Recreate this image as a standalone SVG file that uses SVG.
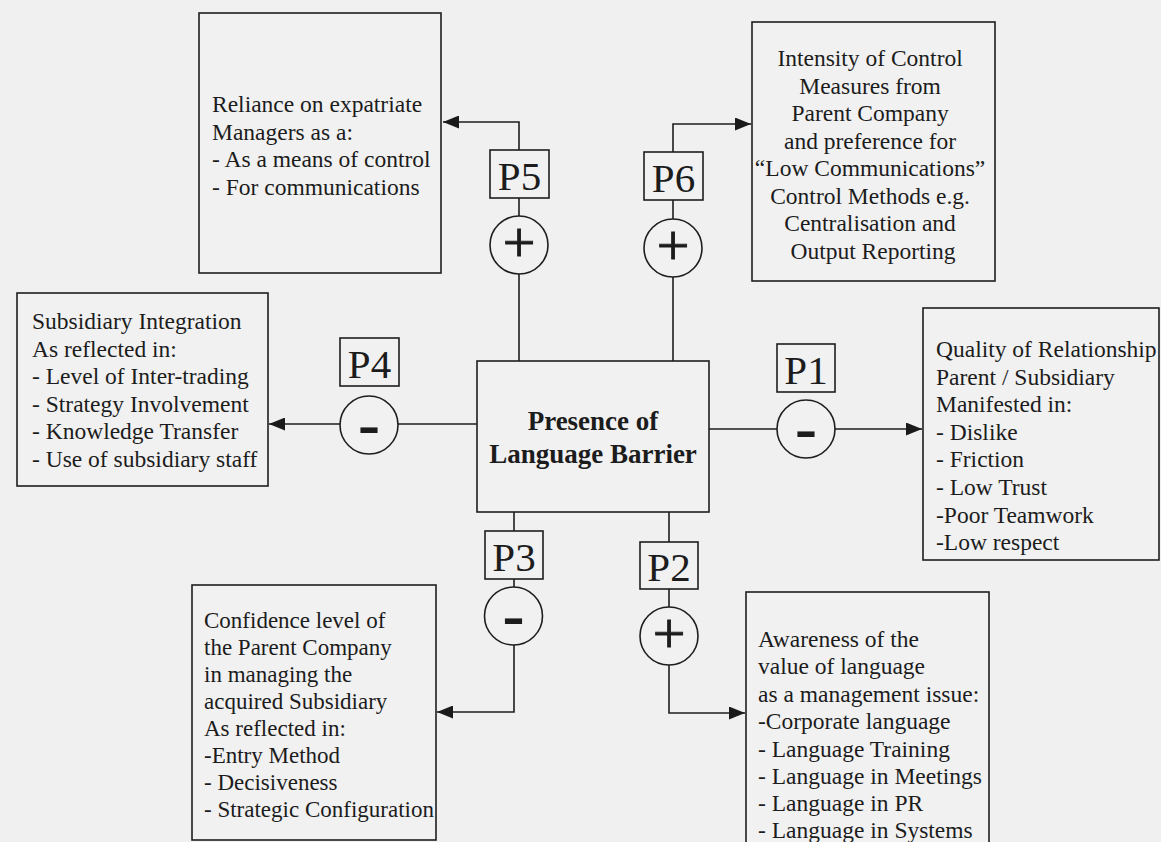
<svg xmlns="http://www.w3.org/2000/svg" width="1161" height="842" viewBox="0 0 1161 842">
  <defs>
    <marker id="arrow" markerUnits="userSpaceOnUse" markerWidth="17" markerHeight="13" refX="16" refY="6.5" orient="auto">
      <path d="M0,0 L16,6.5 L0,13 z" fill="#1a1a1a"/>
    </marker>
    <style>
      .bg { fill: #f0f0f0; }
      .box { fill: #f1f1f1; stroke: #1e1e1e; stroke-width: 1.6; }
      .wire { fill: none; stroke: #1e1e1e; stroke-width: 1.6; marker-end: url(#arrow); }
      .ring { fill: #f1f1f1; stroke: #1e1e1e; stroke-width: 1.6; }
      .body { font-family: "Liberation Serif", "Times New Roman", serif; font-size: 23.5px; fill: #1c1c1c; }
      .snug { font-size: 23px; }
      .mid { text-anchor: middle; }
      .title { font-family: "Liberation Serif", "Times New Roman", serif; font-size: 27px; font-weight: bold; fill: #1c1c1c; text-anchor: middle; }
      .tag { font-family: "Liberation Serif", "Times New Roman", serif; font-size: 41px; fill: #1c1c1c; text-anchor: middle; }
      .plus { font-family: "Liberation Serif", "Times New Roman", serif; font-size: 58px; fill: #1c1c1c; stroke: #1c1c1c; stroke-width: 0.9; text-anchor: middle; }
      .minus { font-family: "Liberation Serif", "Times New Roman", serif; font-size: 66px; font-weight: bold; fill: #1c1c1c; text-anchor: middle; }
    </style>
  </defs>

  <rect class="bg" x="0" y="0" width="1161" height="842"/>

  <!-- connectors: centre box out to each outcome box -->
  <g id="connectors">
    <path class="wire" d="M519,361 V122 H443"/>
    <path class="wire" d="M673,361 V124 H751"/>
    <path class="wire" d="M477,424 H269"/>
    <path class="wire" d="M709,429 H922"/>
    <path class="wire" d="M514,512 V712 H437"/>
    <path class="wire" d="M669,512 V713 H745"/>
  </g>

  <!-- central concept -->
  <g id="language-barrier">
    <rect class="box" x="477" y="361" width="232" height="151"/>
    <text class="title" x="593" y="430">Presence of</text>
    <text class="title" x="593" y="463">Language Barrier</text>
  </g>

  <!-- outcome boxes -->
  <g id="expatriate-managers">
    <rect class="box" x="199" y="13" width="242" height="260"/>
    <text class="body" x="212" y="112">
      <tspan x="212" y="112">Reliance on expatriate</tspan>
      <tspan x="212" y="140">Managers as a:</tspan>
      <tspan x="212" y="167">- As a means of control</tspan>
      <tspan x="212" y="195">- For communications</tspan>
    </text>
  </g>

  <g id="control-intensity">
    <rect class="box" x="752" y="22" width="243" height="259"/>
    <text class="body mid" x="873" y="66">
      <tspan x="873" y="66">Intensity of Control</tspan>
      <tspan x="873" y="94">Measures from</tspan>
      <tspan x="873" y="121">Parent  Company</tspan>
      <tspan x="873" y="149">and preference for</tspan>
      <tspan x="873" y="176">“Low Communications”</tspan>
      <tspan x="873" y="204">Control Methods e.g.</tspan>
      <tspan x="873" y="231">Centralisation and</tspan>
      <tspan x="873" y="259">Output Reporting</tspan>
    </text>
  </g>

  <g id="subsidiary-integration">
    <rect class="box" x="17" y="293" width="251" height="193"/>
    <text class="body" x="32" y="329">
      <tspan x="32" y="329">Subsidiary Integration</tspan>
      <tspan x="32" y="357">As reflected in:</tspan>
      <tspan x="32" y="384"> - Level of Inter-trading</tspan>
      <tspan x="32" y="412">-  Strategy Involvement</tspan>
      <tspan x="32" y="439">- Knowledge Transfer</tspan>
      <tspan x="32" y="467">- Use of subsidiary staff</tspan>
    </text>
  </g>

  <g id="relationship-quality">
    <rect class="box" x="923" y="308" width="236" height="252"/>
    <text class="body" x="936" y="357">
      <tspan x="936" y="357">Quality of Relationship</tspan>
      <tspan x="936" y="385">Parent / Subsidiary</tspan>
      <tspan x="936" y="412">Manifested in:</tspan>
      <tspan x="936" y="440">- Dislike</tspan>
      <tspan x="936" y="467">- Friction</tspan>
      <tspan x="936" y="495">- Low Trust</tspan>
      <tspan x="936" y="523">-Poor Teamwork</tspan>
      <tspan x="936" y="550">-Low respect</tspan>
    </text>
  </g>

  <g id="parent-confidence">
    <rect class="box" x="192" y="585" width="244" height="255"/>
    <text class="body snug" x="204" y="628">
      <tspan x="204" y="628">Confidence level of</tspan>
      <tspan x="204" y="655">the Parent Company</tspan>
      <tspan x="204" y="682">in managing the</tspan>
      <tspan x="204" y="709">acquired Subsidiary</tspan>
      <tspan x="204" y="736">As reflected in:</tspan>
      <tspan x="204" y="763">-Entry Method</tspan>
      <tspan x="204" y="790">- Decisiveness</tspan>
      <tspan x="204" y="817">- Strategic Configuration</tspan>
    </text>
  </g>

  <g id="language-awareness">
    <rect class="box" x="746" y="592" width="243" height="260"/>
    <text class="body" x="758" y="647">
      <tspan x="758" y="647">Awareness of the</tspan>
      <tspan x="758" y="674">value of language</tspan>
      <tspan x="758" y="702">as a management issue:</tspan>
      <tspan x="758" y="729">-Corporate language</tspan>
      <tspan x="758" y="757">- Language Training</tspan>
      <tspan x="758" y="784">- Language in Meetings</tspan>
      <tspan x="758" y="811">- Language in PR</tspan>
      <tspan x="758" y="838">- Language in Systems</tspan>
    </text>
  </g>

  <!-- proposition labels and their signs -->
  <g id="p5">
    <rect class="box" x="490" y="150" width="59" height="48"/>
    <text class="tag" x="519.5" y="190">P5</text>
    <circle class="ring" cx="519" cy="245" r="29"/>
    <text class="plus" x="519" y="262">+</text>
  </g>
  <g id="p6">
    <rect class="box" x="644" y="152" width="59" height="48"/>
    <text class="tag" x="673.5" y="192">P6</text>
    <circle class="ring" cx="673" cy="248" r="29"/>
    <text class="plus" x="673" y="265">+</text>
  </g>
  <g id="p4">
    <rect class="box" x="340" y="338" width="59" height="48"/>
    <text class="tag" x="369.5" y="378">P4</text>
    <circle class="ring" cx="369" cy="425" r="29"/>
    <text class="minus" x="369" y="446">-</text>
  </g>
  <g id="p1">
    <rect class="box" x="777" y="344" width="58" height="48"/>
    <text class="tag" x="806" y="384">P1</text>
    <circle class="ring" cx="806" cy="429" r="29"/>
    <text class="minus" x="806" y="450">-</text>
  </g>
  <g id="p3">
    <rect class="box" x="485" y="531" width="58" height="48"/>
    <text class="tag" x="514" y="571">P3</text>
    <circle class="ring" cx="513.5" cy="616" r="29"/>
    <text class="minus" x="513.5" y="637">-</text>
  </g>
  <g id="p2">
    <rect class="box" x="640" y="542" width="58" height="47"/>
    <text class="tag" x="669" y="581">P2</text>
    <circle class="ring" cx="669" cy="636" r="29"/>
    <text class="plus" x="669" y="653">+</text>
  </g>
</svg>
